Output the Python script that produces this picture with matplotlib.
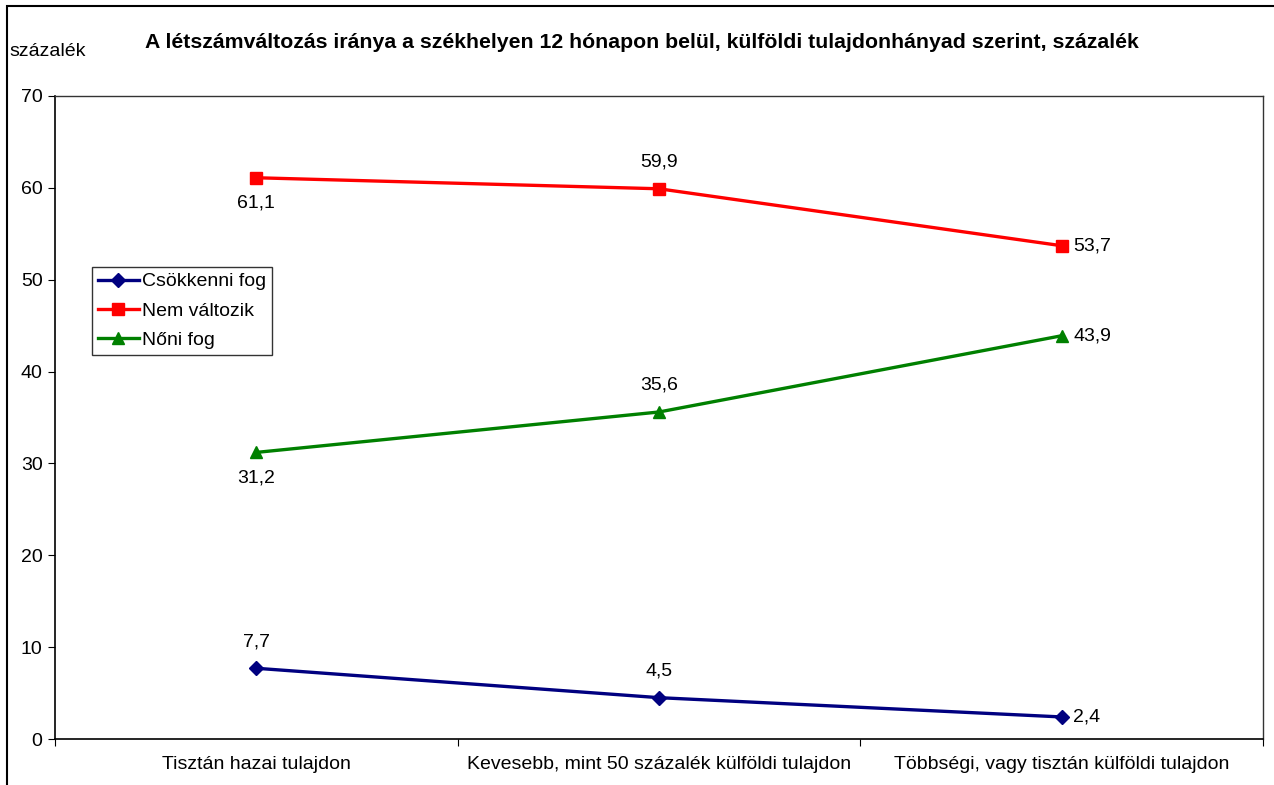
import matplotlib.pyplot as plt
from matplotlib.patches import Rectangle

plt.rcParams['font.family'] = ['Liberation Sans', 'DejaVu Sans']

categories = ["Tisztán hazai tulajdon",
              "Kevesebb, mint 50 százalék külföldi tulajdon",
              "Többségi, vagy tisztán külföldi tulajdon"]
csokkenni = [7.7, 4.5, 2.4]
nem_valtozik = [61.1, 59.9, 53.7]
noni = [31.2, 35.6, 43.9]

# label placement per point: 'above', 'below', 'right'
pos_csokkenni = ["above", "above", "right"]
pos_nem = ["below", "above", "right"]
pos_noni = ["below", "above", "right"]

W, H = 1274, 785
fig = plt.figure(figsize=(W / 100, H / 100), dpi=100)
ax = fig.add_axes([55 / W, 1 - 739 / H, (1263 - 55) / W, (739 - 96) / H])

# outer chart frame (partly cut off at right and bottom)
fig.patches.append(Rectangle((7 / W, -0.02), 1.1, 1 - 6 / H + 0.02,
                             transform=fig.transFigure, fill=False,
                             edgecolor="black", linewidth=1.5))

x = [0.5, 1.5, 2.5]
series = [
    (csokkenni, "Csökkenni fog", "#000080", "D", 7, pos_csokkenni),
    (nem_valtozik, "Nem változik", "#ff0000", "s", 8, pos_nem),
    (noni, "Nőni fog", "#008000", "^", 8, pos_noni),
]
for vals, name, color, marker, ms, poss in series:
    ax.plot(x, vals, color=color, marker=marker, markersize=ms, linewidth=2.4,
            label=name)
    for xi, v, p in zip(x, vals, poss):
        txt = f"{v:.1f}".replace(".", ",")
        if p == "above":
            ax.annotate(txt, (xi, v), xytext=(0, 13), textcoords="offset points",
                        ha="center", va="bottom", fontsize=14)
        elif p == "below":
            ax.annotate(txt, (xi, v), xytext=(0, -12), textcoords="offset points",
                        ha="center", va="top", fontsize=14)
        else:
            ax.annotate(txt, (xi, v), xytext=(8.5, 0), textcoords="offset points",
                        ha="left", va="center", fontsize=14)

ax.set_xlim(0, 3)
ax.set_ylim(0, 70)
ax.set_yticks(range(0, 71, 10))
ax.set_xticks([0, 1, 2, 3])
ax.set_xticklabels([])
ax.set_xticks(x, minor=True)
ax.set_xticklabels(categories, minor=True)
ax.tick_params(axis="x", which="minor", length=0, pad=12, labelsize=14)
ax.tick_params(axis="x", which="major", length=5, direction="out", color="black")
ax.tick_params(axis="y", length=5, direction="out", labelsize=14, pad=4)
for s in ["left", "bottom"]:
    ax.spines[s].set_color("black")
    ax.spines[s].set_linewidth(1.2)
for s in ["top", "right"]:
    ax.spines[s].set_color("#333333")
    ax.spines[s].set_linewidth(1)

leg = ax.legend(loc="upper left", bbox_to_anchor=(37 / 1208, 1 - 171 / 643),
                fontsize=14, frameon=True, fancybox=False, edgecolor="black",
                handlelength=2.1, handletextpad=0.15, borderpad=0.3,
                labelspacing=0.6, borderaxespad=0)
leg.get_frame().set_linewidth(1)

fig.text(642 / W, 1 - 42 / H,
         "A létszámváltozás iránya a székhelyen 12 hónapon belül, külföldi tulajdonhányad szerint, százalék",
         ha="center", va="center", fontsize=15.3, fontweight="bold")
fig.text(9 / W, 1 - 52 / H, "százalék", ha="left", va="center", fontsize=14)

fig.savefig("out.png", dpi=100)
